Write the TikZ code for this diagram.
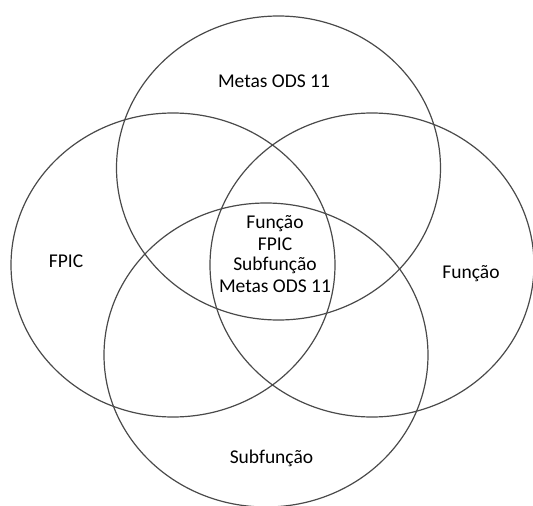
\documentclass[tikz,border=0pt]{standalone}
\usepackage{fontspec}
\setmainfont{Carlito}
\usetikzlibrary{shapes.geometric}
\definecolor{ringcol}{HTML}{4A4A4A}
\tikzset{
  ring/.style={draw=ringcol, line width=1.2pt, ellipse, inner sep=0pt,
    minimum width=324pt, minimum height=304pt},
  lbl/.style={anchor=base, inner sep=0pt, font=\fontsize{19.5}{21.3}\selectfont, text=black}
}
\begin{document}
\begin{tikzpicture}[x=1pt,y=-1pt]
\useasboundingbox (0,0) rectangle (533,506);
\node[ring] (top) at (278.5,168) {};
\node[ring] (left) at (173,265) {};
\node[ring] (right) at (372,265) {};
\node[ring] (bottom) at (266,355) {};
\node[lbl] (ltop) at (274,87) {Metas ODS 11};
\node[lbl] (lleft) at (66,267) {FPIC};
\node[lbl] (lright) at (471,278) {Função};
\node[lbl] (lbottom) at (271.5,463) {Subfunção};
\node[lbl] (c1) at (275,228) {Função};
\node[lbl] (c2) at (275,250) {FPIC};
\node[lbl] (c3) at (275,270.5) {Subfunção};
\node[lbl] (c4) at (275,292) {Metas ODS 11};
\end{tikzpicture}
\end{document}
